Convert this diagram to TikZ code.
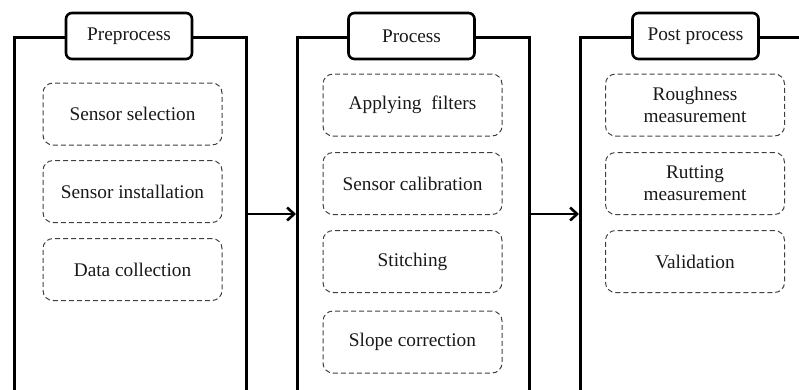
\documentclass[tikz,border=0pt]{standalone}
\usepackage{fontspec}
\setmainfont{Liberation Serif}
\usetikzlibrary{arrows.meta}
\begin{document}
\begin{tikzpicture}[x=1pt,y=-1pt,
  panel/.style={draw=black,line width=2.6pt,minimum width=232pt,minimum height=384pt,inner sep=0pt,anchor=north west},
  header/.style={draw=black,fill=white,line width=2.6pt,rounded corners=6pt,minimum width=126pt,minimum height=46pt,inner sep=0pt,font=\fontsize{19.3}{22}\selectfont,text=black!90},
  task/.style={draw=black!75,dashed,dash pattern=on 5pt off 3pt,line width=1pt,rounded corners=10pt,minimum width=179pt,minimum height=62pt,inner sep=0pt,align=center,font=\fontsize{19.3}{22}\selectfont,text=black!90},
  flow/.style={line width=2.6pt,-{Straight Barb[length=7pt,width=13pt,line width=2.6pt]}}]
\useasboundingbox (0,0) rectangle (799,389);
\node[panel] (p1) at (13,36) {};
\node[panel] (p2) at (296,36) {};
\node[panel] (p3) at (579,36) {};
\node[header] (h1) at (129,36) {Preprocess};
\node[header] (h2) at (411.5,36) {Process};
\node[header] (h3) at (695.5,36) {Post process};
\node[task] (a1) at (132.5,114) {Sensor selection};
\node[task] (a2) at (132.5,191.5) {Sensor installation};
\node[task] (a3) at (132.5,269.5) {Data collection};
\node[task] (b1) at (412.5,105) {Applying\ \ filters};
\node[task] (b2) at (412.5,183.5) {Sensor calibration};
\node[task] (b3) at (412.5,261.5) {Stitching};
\node[task] (b4) at (412.5,342) {Slope correction};
\node[task] (c1) at (695,105) {Roughness\\measurement};
\node[task] (c2) at (695,183.5) {Rutting\\measurement};
\node[task] (c3) at (695,261.5) {Validation};
\draw[flow] (p1.east |- 0,214) -- (p2.west |- 0,214);
\draw[flow] (p2.east |- 0,214) -- (p3.west |- 0,214);
\end{tikzpicture}
\end{document}
